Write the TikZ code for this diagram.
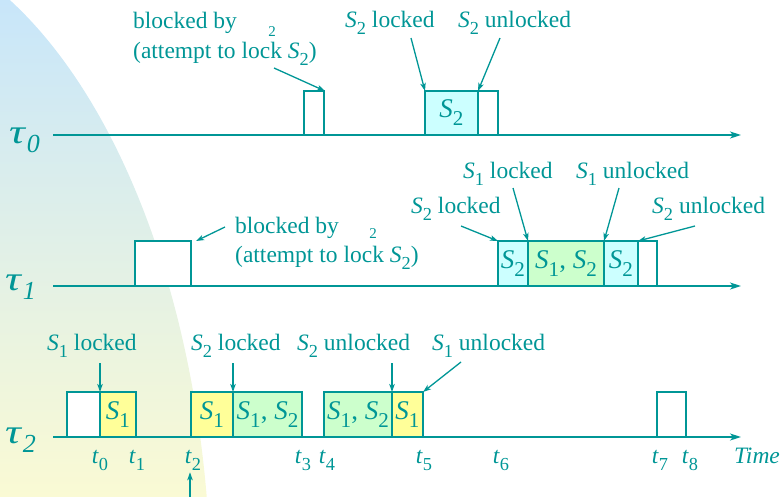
\documentclass[tikz,border=0pt]{standalone}
\usepackage{fontspec}
\usepackage{graphicx}
\setmainfont{Liberation Serif}
\usetikzlibrary{arrows.meta}

\definecolor{ink}{RGB}{0,150,150}
\definecolor{lockone}{RGB}{255,255,153}
\definecolor{locktwo}{RGB}{204,255,255}
\definecolor{lockboth}{RGB}{204,255,204}
\definecolor{skytop}{RGB}{200,230,250}
\definecolor{skymid}{RGB}{224,241,232}
\definecolor{skybot}{RGB}{250,250,212}

% subscripts set large and low, as in the original slides
\newcommand{\lowsub}[1]{\raisebox{-0.3em}{\scalebox{0.78}{#1}}}
\newcommand{\Sv}[1]{\textit{S}\lowsub{#1}}
\newcommand{\tv}[1]{\textit{t}\lowsub{#1}}
\newcommand{\tauv}[1]{\scalebox{1.3}[1]{\fontsize{34}{34}\selectfont\textit{τ}}\kern0.5pt\raisebox{-9pt}{\fontsize{26}{26}\selectfont\textit{#1}}}

\begin{document}
\begin{tikzpicture}[x=1pt,y=-1pt,
  job/.style={draw=ink, line width=1.5pt, inner sep=0pt, outer sep=0pt,
    anchor=south west, text=ink, font=\fontsize{27}{28}\selectfont},
  lbl/.style={text=ink, font=\fontsize{23.5}{30}\selectfont, anchor=base west, inner sep=0pt},
  tick/.style={text=ink, font=\fontsize{23.5}{30}\selectfont, anchor=base, inner sep=0pt},
  tiny/.style={text=ink, font=\fontsize{15}{15}\selectfont, inner sep=0pt},
  tlabel/.style={text=ink, anchor=base west, inner sep=0pt},
  axis/.style={draw=ink, line width=1.5pt, -{Stealth[length=11pt,width=7pt,inset=3pt]}},
  ptr/.style={draw=ink, line width=1.3pt, -{Stealth[length=8pt,width=5.5pt,inset=2pt]}}]

\useasboundingbox (0,0) rectangle (781,496);

% soft backdrop on the left
\begin{scope}
  \clip (-150,600) ellipse [x radius=361pt, y radius=669pt];
  \shade[top color=skytop, middle color=skymid, bottom color=skybot] (0,0) rectangle (781,496);
\end{scope}

% ---------- task labels ----------
\node[tlabel] (tau0) at (9,143) {\tauv{0}};
\node[tlabel] (tau1) at (5,290) {\tauv{1}};
\node[tlabel] (tau2) at (5,443) {\tauv{2}};

% ---------- time axes ----------
\coordinate (a0s) at (53,135);  \coordinate (a0e) at (741,135);
\coordinate (a1s) at (53,286);  \coordinate (a1e) at (741,286);
\coordinate (a2s) at (53,437);  \coordinate (a2e) at (741,437);
\draw[axis] (a0s) -- (a0e);
\draw[axis] (a1s) -- (a1e);
\draw[axis] (a2s) -- (a2e);

% ---------- tau0 execution ----------
\node[job, fill=white, minimum width=20pt, minimum height=44pt] (p0) at (304,135) {};
\node[job, fill=locktwo, minimum width=53pt, minimum height=44pt] (p1) at (425,135) {\Sv{2}};
\node[job, fill=white, minimum width=20pt, minimum height=44pt] (p2) at (478,135) {};

\node[lbl] (blk0a) at (133,28) {blocked by};
\node[lbl] (blk0b) at (133,58) {(attempt to lock \Sv{2})};
\node[tiny] (sup0) at (272,32) {2};
\node[lbl] (lk0) at (345,27) {\Sv{2} locked};
\node[lbl] (ul0) at (458,27) {\Sv{2} unlocked};

\coordinate (f0) at (274,68);
\coordinate (f1) at (411,38);
\coordinate (f2) at (500,38);
\draw[ptr] (f0) -- ([xshift=1pt]p0.north east);
\draw[ptr] (f1) -- (p1.north west);
\draw[ptr] (f2) -- (p1.north east);

% ---------- tau1 execution ----------
\node[job, fill=white, minimum width=56pt, minimum height=45pt] (q0) at (135,286) {};
\node[job, fill=locktwo, minimum width=30pt, minimum height=45pt] (q1) at (498,286) {\Sv{2}};
\node[job, fill=lockboth, minimum width=76pt, minimum height=45pt] (q2) at (528,286) {\Sv{1}, \Sv{2}};
\node[job, fill=locktwo, minimum width=34pt, minimum height=45pt] (q3) at (604,286) {\Sv{2}};
\node[job, fill=white, minimum width=19pt, minimum height=45pt] (q4) at (638,286) {};

\node[lbl] (blk1a) at (235,233) {blocked by};
\node[lbl] (blk1b) at (235,262) {(attempt to lock \Sv{2})};
\node[tiny] (sup1) at (373,234) {2};
\node[lbl] (lk1a) at (463,178) {\Sv{1} locked};
\node[lbl] (ul1a) at (576,178) {\Sv{1} unlocked};
\node[lbl] (lk1b) at (411,213) {\Sv{2} locked};
\node[lbl] (ul1b) at (652,213) {\Sv{2} unlocked};

\coordinate (g0) at (225,227);
\coordinate (g1) at (461,226);
\coordinate (g2) at (513,188);
\coordinate (g3) at (619,188);
\coordinate (g4) at (695,226);
\draw[ptr] (g0) -- ([xshift=5pt]q0.north east);
\draw[ptr] (g1) -- (q1.north west);
\draw[ptr] (g2) -- (q2.north west);
\draw[ptr] (g3) -- (q2.north east);
\draw[ptr] (g4) -- (q3.north east);

% ---------- tau2 execution ----------
\node[job, fill=white, minimum width=33pt, minimum height=45pt] (r0) at (67,437) {};
\node[job, fill=lockone, minimum width=36pt, minimum height=45pt] (r1) at (100,437) {\Sv{1}};
\node[job, fill=lockone, minimum width=42pt, minimum height=45pt] (r2) at (191,437) {\Sv{1}};
\node[job, fill=lockboth, minimum width=69pt, minimum height=45pt] (r3) at (233,437) {\Sv{1}, \Sv{2}};
\node[job, fill=lockboth, minimum width=68pt, minimum height=45pt] (r4) at (324,437) {\Sv{1}, \Sv{2}};
\node[job, fill=lockone, minimum width=31pt, minimum height=45pt] (r5) at (392,437) {\Sv{1}};
\node[job, fill=white, minimum width=29pt, minimum height=45pt] (r6) at (657,437) {};

\node[lbl] (lk2a) at (47,350) {\Sv{1} locked};
\node[lbl] (lk2b) at (191,350) {\Sv{2} locked};
\node[lbl] (ul2b) at (297,350) {\Sv{2} unlocked};
\node[lbl] (ul2a) at (432,350) {\Sv{1} unlocked};

\coordinate (h0) at (100,363);
\coordinate (h1) at (233,363);
\coordinate (h2) at (392,363);
\coordinate (h3) at (461,362);
\draw[ptr] (h0) -- (r1.north west);
\draw[ptr] (h1) -- (r3.north west);
\draw[ptr] (h2) -- (r5.north west);
\draw[ptr] (h3) -- (r5.north east);

% ---------- time instants ----------
\node[tick] (t0) at (100,463) {\tv{0}};
\node[tick] (t1) at (137,463) {\tv{1}};
\node[tick] (t2) at (193,463) {\tv{2}};
\node[tick] (t3) at (303,463) {\tv{3}};
\node[tick] (t4) at (327,463) {\tv{4}};
\node[tick] (t5) at (424,463) {\tv{5}};
\node[tick] (t6) at (501,463) {\tv{6}};
\node[tick] (t7) at (660,463) {\tv{7}};
\node[tick] (t8) at (690,463) {\tv{8}};
\node[lbl] (timelbl) at (734,463) {\textit{Time}};

\coordinate (up0) at (190,497);
\draw[ptr] (up0) -- ([yshift=-2pt]t2.south -| up0);
\end{tikzpicture}
\end{document}
